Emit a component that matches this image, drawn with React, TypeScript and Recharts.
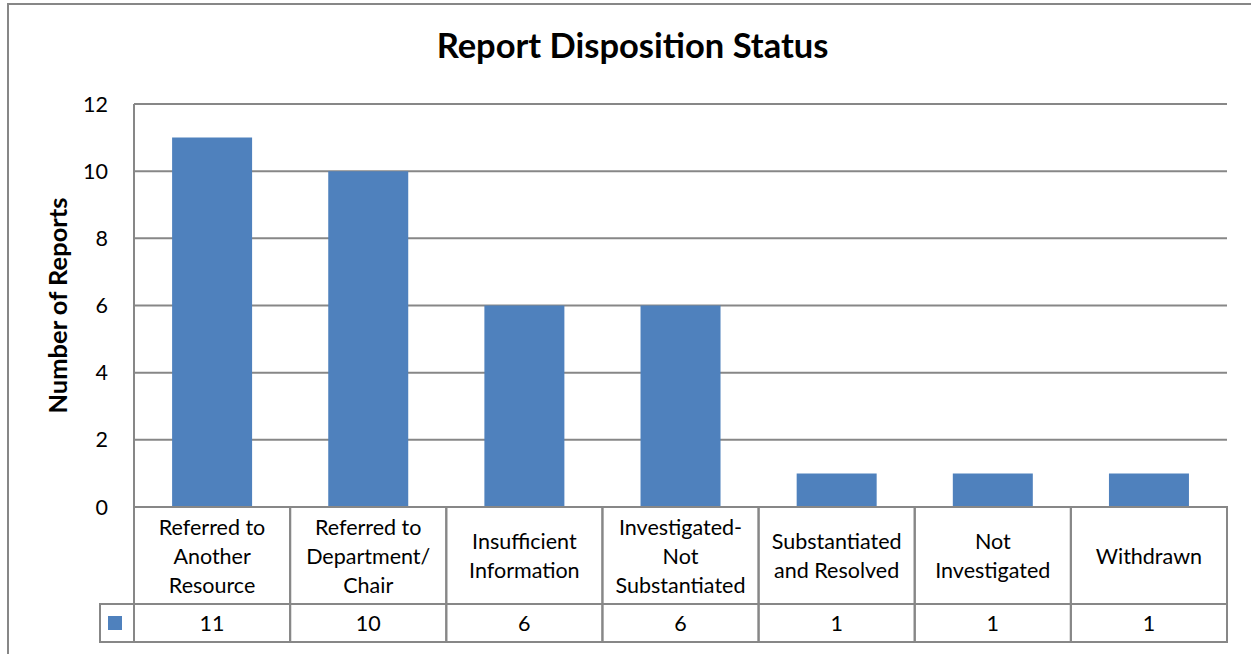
import React from 'react';
import { BarChart, Bar, XAxis, YAxis, CartesianGrid } from 'recharts';

const categoryLines: string[][] = [
  ['Referred to', 'Another', 'Resource'],
  ['Referred to', 'Department/', 'Chair'],
  ['Insufficient', 'Information'],
  ['Investigated-', 'Not', 'Substantiated'],
  ['Substantiated', 'and Resolved'],
  ['Not', 'Investigated'],
  ['Withdrawn'],
];
const categories: string[] = categoryLines.map((l) => l.join(' '));
const reportCounts: number[] = [11, 10, 6, 6, 1, 1, 1];
const yTicks: number[] = [0, 2, 4, 6, 8, 10, 12];

const data = categories.map((c, i) => ({ category: c, reports: reportCounts[i] }));

const W = 1251;
const H = 654;
const PLOT_LEFT = 134;
const PLOT_RIGHT = 1227;
const PLOT_TOP = 104;
const PLOT_BOTTOM = 507;
const COL_W = (PLOT_RIGHT - PLOT_LEFT) / categories.length;
const HEADER_H = 97;
const VALUE_H = 38;
const LINE_H = 29;
const GRID = '#878787';
const BLUE = '#4F81BD';
const FONT = 'Lato, "Open Sans", sans-serif';
const FS = 21.5;

const TableTick = (props: any) => {
  const { x, y, payload } = props;
  const i: number = payload?.index ?? props.index ?? 0;
  const lines = categoryLines[i] || [];
  const left = x - COL_W / 2;
  const top = y;
  const mid = top + HEADER_H;
  const headerCenter = top + HEADER_H / 2;
  const startY = headerCenter - ((lines.length - 1) * LINE_H) / 2;
  return (
    <g>
      <rect x={left} y={top} width={COL_W} height={HEADER_H + VALUE_H} fill="none" stroke={GRID} strokeWidth={2} />
      <line x1={left} x2={left + COL_W} y1={mid} y2={mid} stroke={GRID} strokeWidth={2} />
      {lines.map((ln, k) => (
        <text
          key={k}
          x={x}
          y={startY + k * LINE_H}
          textAnchor="middle"
          dominantBaseline="central"
          fontSize={FS}
          fontFamily={FONT}
          fill="#000"
        >
          {ln}
        </text>
      ))}
      <text x={x} y={mid + VALUE_H / 2} textAnchor="middle" dominantBaseline="central" fontSize={FS} fontFamily={FONT} fill="#000">
        {reportCounts[i]}
      </text>
      {i === 0 && (
        <g>
          <rect x={100} y={mid} width={left - 100} height={VALUE_H} fill="none" stroke={GRID} strokeWidth={2} />
          <rect x={108} y={mid + 12} width={14} height={14} fill={BLUE} />
        </g>
      )}
    </g>
  );
};

export default function App() {
  return (
    <div style={{ position: 'fixed', left: 0, top: 0, width: W, height: H, overflow: 'hidden', background: '#fff' }}>
      <div style={{ position: 'absolute', left: 0, top: 0 }}>
        <BarChart
          width={W}
          height={H}
          data={data}
          margin={{ top: PLOT_TOP, right: W - PLOT_RIGHT, bottom: 12, left: 74 }}
          barCategoryGap="24.4%"
        >
          <CartesianGrid horizontal vertical={false} stroke={GRID} strokeWidth={2} />
          <XAxis
            dataKey="category"
            interval={0}
            height={H - PLOT_BOTTOM - 12}
            axisLine={{ stroke: GRID, strokeWidth: 2 }}
            tickLine={false}
            tickSize={0}
            tickMargin={0}
            tick={<TableTick />}
          />
          <YAxis
            width={60}
            domain={[0, 12]}
            ticks={yTicks}
            interval={0}
            axisLine={{ stroke: GRID, strokeWidth: 2 }}
            tickLine={false}
            tickSize={0}
            tickMargin={26}
            tick={{ fontSize: FS, fontFamily: FONT, fill: '#000' }}
            label={{
              value: 'Number of Reports',
              angle: -90,
              position: 'insideLeft',
              offset: 0,
              style: { fontSize: 25.5, fontWeight: 'bold', fontFamily: FONT, fill: '#000', textAnchor: 'middle' },
              dx: -16,
            }}
          />
          <Bar dataKey="reports" fill={BLUE} isAnimationActive={false} />
        </BarChart>
      </div>
      <svg width={W} height={H} style={{ position: 'absolute', left: 0, top: 0, pointerEvents: 'none' }}>
        <rect x={8} y={4} width={W + 20} height={H + 20} fill="none" stroke={GRID} strokeWidth={2} />
        <text x={632.5} y={58} textAnchor="middle" fontSize={34.5} fontWeight="bold" fontFamily={FONT} fill="#000">
          Report Disposition Status
        </text>
      </svg>
    </div>
  );
}
